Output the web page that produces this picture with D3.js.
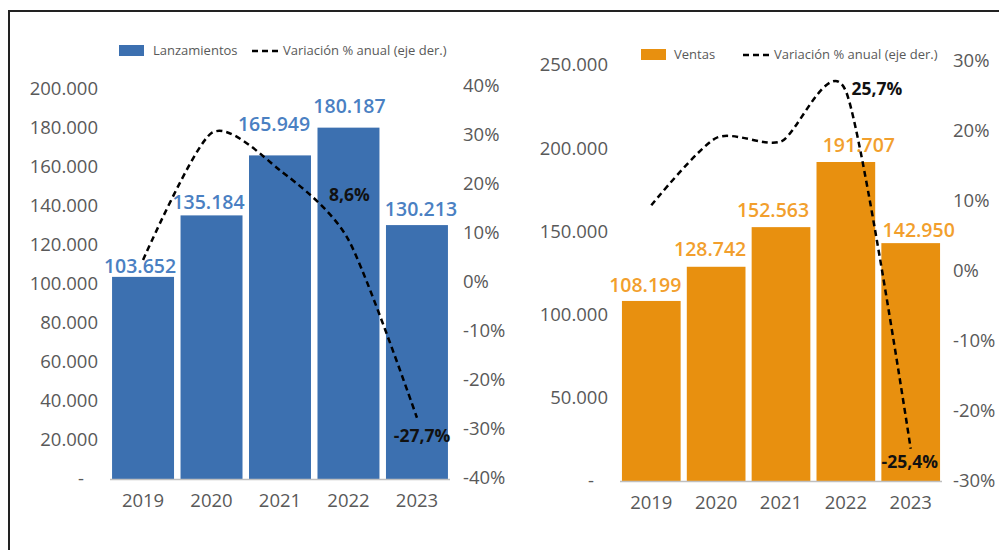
<!DOCTYPE html>
<html>
<meta charset="UTF-8">
<script src="https://d3js.org/d3.v7.min.js"></script>
<style>
    body {
        margin: 0;
        background: #fff;
        font-family: "Open Sans", sans-serif;
    }

    text {
        fill: #595959;
        font-family: "Open Sans", sans-serif;
    }

    .tick text {
        font-size: 18.5px;
    }

    .legend text {
        font-size: 13px;
    }

    text.val {
        font-size: 19.5px;
        font-weight: 600;
    }

    text.pct {
        font-size: 17.5px;
        font-weight: 700;
        fill: #111;
    }
</style>

<body>
    <svg width="999" height="550"></svg>
    <script>
        // data
        const years = ["2019", "2020", "2021", "2022", "2023"];
        const lanzamientos = [103652, 135184, 165949, 180187, 130213];
        const varLanz = [4.5, 30.4, 22.8, 8.6, -27.7];
        const ventas = [108199, 128742, 152563, 191707, 142950];
        const varVentas = [9.4, 19.0, 18.5, 25.7, -25.4];
        const lanzTicks = [0, 20000, 40000, 60000, 80000, 100000, 120000, 140000, 160000, 180000, 200000];
        const lanzPctTicks = [-40, -30, -20, -10, 0, 10, 20, 30, 40];
        const ventasTicks = [0, 50000, 100000, 150000, 200000, 250000];
        const ventasPctTicks = [-30, -20, -10, 0, 10, 20, 30];

        const svg = d3.select("svg");

        // frame
        svg.append("path")
            .attr("d", "M9,560 L9,11 L1010,11")
            .attr("fill", "none")
            .attr("stroke", "#222")
            .attr("stroke-width", 2);

        const fmtNum = d3.formatLocale({ decimal: ",", thousands: ".", grouping: [3], currency: ["", ""] }).format(",d");
        const fmtPct = d => (d < 0 ? "-" : "") + Math.abs(d).toFixed(1).replace(".", ",") + "%";

        function drawPanel(cfg) {
            const x = d3.scaleBand().domain(years).range([cfg.x0, cfg.x1]).paddingInner(0.095).paddingOuter(0.03);
            const y = d3.scaleLinear().domain([0, cfg.max]).range([cfg.bottom, cfg.top]);
            const y2 = d3.scaleLinear().domain(cfg.pctDomain).range([cfg.pctBottom, cfg.pctTop]);
            const g = svg.append("g");

            // left axis
            const ya = g.append("g")
                .attr("transform", `translate(${cfg.x0 - 12},0)`)
                .call(d3.axisLeft(y).tickValues(cfg.ticks).tickSize(0).tickPadding(0)
                    .tickFormat(d => d === 0 ? "-" : fmtNum(d)));
            ya.select(".domain").remove();
            ya.selectAll(".tick text").filter(d => d === 0).attr("dx", -14);

            // right axis
            const ra = g.append("g")
                .attr("transform", `translate(${cfg.rightX},0)`)
                .call(d3.axisRight(y2).tickValues(cfg.pctTicks).tickSize(0).tickPadding(0)
                    .tickFormat(d => d + "%"));
            ra.select(".domain").remove();

            // bars
            g.selectAll("rect.bar")
                .data(cfg.values)
                .join("rect")
                .attr("class", "bar")
                .attr("x", (d, i) => x(years[i]))
                .attr("y", d => y(d))
                .attr("width", x.bandwidth())
                .attr("height", d => y(0) - y(d))
                .attr("fill", cfg.color);

            // x axis
            const xa = g.append("g")
                .attr("transform", `translate(0,${cfg.bottom})`)
                .call(d3.axisBottom(x).tickSize(0).tickPadding(15));
            xa.select(".domain").attr("stroke", "#bfbfbf").attr("stroke-width", 1.5)
                .attr("d", `M${cfg.x0},0.5H${cfg.x1}`);

            // bar labels (placed by hand in the original, so per-bar nudges)
            g.selectAll("text.val")
                .data(cfg.values)
                .join("text")
                .attr("class", "val")
                .attr("x", (d, i) => x(years[i]) + x.bandwidth() / 2 + cfg.labDx[i])
                .attr("y", (d, i) => y(d) - cfg.labGap[i])
                .attr("text-anchor", "middle")
                .style("fill", cfg.labelColor)
                .text(d => fmtNum(d));

            // line
            const line = d3.line()
                .x((d, i) => x(years[i]) + x.bandwidth() / 2)
                .y(d => y2(d))
                .curve(d3.curveCardinal.tension(0.25));
            g.append("path")
                .datum(cfg.pct)
                .attr("d", line)
                .attr("fill", "none")
                .attr("stroke", "#000")
                .attr("stroke-width", 2.5)
                .attr("stroke-dasharray", "6 4");

            // pct labels
            cfg.pctLabels.forEach(p => {
                g.append("text")
                    .attr("class", "pct")
                    .attr("x", x(years[p.i]) + x.bandwidth() / 2 + p.dx)
                    .attr("y", y2(cfg.pct[p.i]) + p.dy)
                    .attr("text-anchor", "middle")
                    .text(fmtPct(cfg.pct[p.i]));
            });

            // legend
            const lg = g.append("g").attr("class", "legend");
            lg.append("rect")
                .attr("x", cfg.legend.x).attr("y", cfg.legend.y - 6)
                .attr("width", 25).attr("height", 11)
                .attr("fill", cfg.color);
            lg.append("text")
                .attr("x", cfg.legend.tx).attr("y", cfg.legend.y + 4)
                .text(cfg.name);
            lg.append("line")
                .attr("x1", cfg.legend.lx).attr("x2", cfg.legend.lx + 27)
                .attr("y1", cfg.legend.y).attr("y2", cfg.legend.y)
                .attr("stroke", "#000").attr("stroke-width", 2.5)
                .attr("stroke-dasharray", "6 4");
            lg.append("text")
                .attr("x", cfg.legend.lx + 31).attr("y", cfg.legend.y + 4)
                .text("Variación % anual (eje der.)");
        }

        drawPanel({
            name: "Lanzamientos",
            values: lanzamientos,
            pct: varLanz,
            color: "#3c70b0",
            labelColor: "#4a80c2",
            x0: 110, x1: 450,
            top: 89, bottom: 479,
            max: 200000,
            ticks: lanzTicks,
            pctDomain: [-40, 40],
            pctTop: 86, pctBottom: 478,
            pctTicks: lanzPctTicks,
            rightX: 463,
            labDx: [-3, -3, -6, 1, 4],
            labGap: [4, 6, 24, 15, 9],
            pctLabels: [{ i: 3, dx: 1, dy: -39 }, { i: 4, dx: 5, dy: 24 }],
            legend: { x: 119, y: 51, tx: 153, lx: 252 }
        });

        drawPanel({
            name: "Ventas",
            values: ventas,
            pct: varVentas,
            color: "#e8900f",
            labelColor: "#f29f2d",
            x0: 620, x1: 942,
            top: 65, bottom: 481,
            max: 250000,
            ticks: ventasTicks,
            pctDomain: [-30, 30],
            pctTop: 61, pctBottom: 481,
            pctTicks: ventasPctTicks,
            rightX: 953,
            labDx: [-6, -6, -8, 13, 8],
            labGap: [9, 11, 10, 10, 6],
            pctLabels: [{ i: 3, dx: 31, dy: 4 }, { i: 4, dx: -1, dy: 19 }],
            legend: { x: 641, y: 55, tx: 674, lx: 743 }
        });
    </script>
</body>

</html>
